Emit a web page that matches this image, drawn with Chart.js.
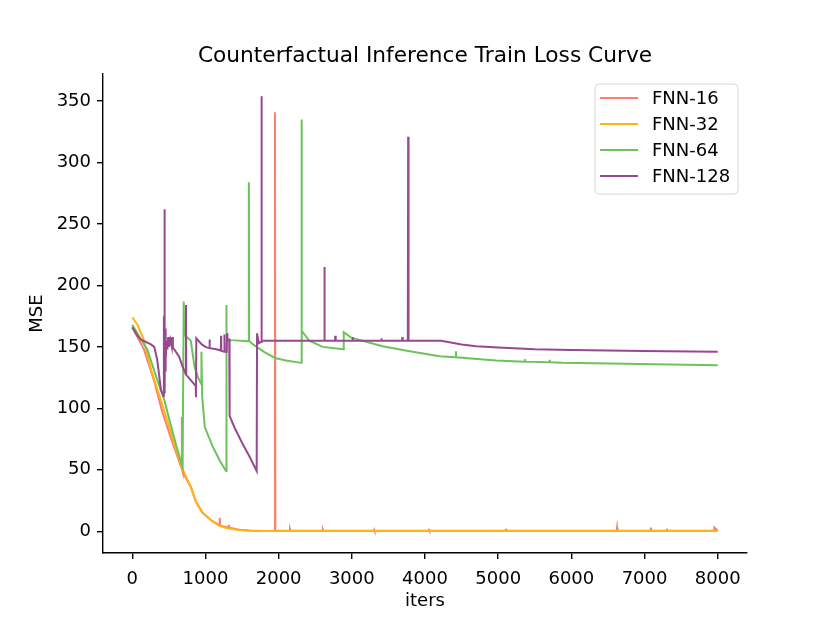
<!DOCTYPE html>
<html>
<head>
<meta charset="utf-8">
<script src="https://cdn.jsdelivr.net/npm/chart.js@4.4.0/dist/chart.umd.min.js"></script>
<style>
  html, body { margin: 0; padding: 0; background: #fff; }
  canvas { display: block; }
</style>
</head>
<body>
<canvas id="lossChart" width="830" height="623"></canvas>
<script>
// values: [iters, MSE]
const seriesNames = ['FNN-16', 'FNN-32', 'FNN-64', 'FNN-128'];
const xTicks = [0, 1000, 2000, 3000, 4000, 5000, 6000, 7000, 8000];
const yTicks = [0, 50, 100, 150, 200, 250, 300, 350];

const fnn16 = [
    [0, 166], [160, 148], [300, 122], [410, 97], [550, 72], [675, 51], [678, 93], [681, 50],
    [690, 48], [800, 36], [870, 24], [960, 15], [1010, 12.4], [1100, 8], [1190, 5],
    [1195, 11], [1200, 4.8], [1300, 3], [1320, 4.5], [1330, 2.8], [1460, 1.2], [1600, 0.6],
    [1800, 0.3], [1945, 0.3], [1950, 341], [1955, 0.4], [2150, 0.4], [2155, 1.5], [2160, 0.4],
    [2600, 0.4], [2605, 1.2], [2610, 0.4], [3300, 0.4], [3305, 1.2], [3310, 0.4],
    [4050, 0.4], [4055, 1], [4060, 0.4], [5100, 0.4], [5105, 2], [5110, 0.4],
    [6620, 0.4], [6625, 3], [6630, 0.4], [7080, 0.4], [7085, 3], [7090, 0.4],
    [7300, 0.4], [7305, 2], [7310, 0.4], [7950, 0.4], [7955, 3], [8000, 0.4]
];

const fnn32 = [
    [0, 174], [70, 168], [150, 157], [260, 131], [400, 105], [500, 86], [600, 66],
    [690, 50], [800, 36], [870, 24], [960, 15], [1010, 12.4], [1100, 8], [1190, 4.5],
    [1300, 2.5], [1460, 1], [1600, 0.5], [1800, 0.2], [2000, 0.1], [5000, 0.1], [8000, 0.1]
];

const fnn64 = [
    [0, 168], [100, 158], [205, 148], [342, 123], [437, 107], [506, 91], [600, 70],
    [688, 52], [703, 187], [708, 160], [800, 155], [850, 134], [900, 125], [940, 120],
    [945, 146], [955, 110], [990, 85], [1098, 69], [1200, 57], [1281, 49], [1285, 184],
    [1290, 156], [1350, 155.5], [1590, 154.5], [1593, 284], [1597, 155], [1650, 152],
    [1800, 146], [1950, 141], [2100, 139], [2308, 137], [2312, 335], [2318, 163],
    [2420, 155], [2600, 150], [2885, 148], [2890, 162], [2990, 157.5], [3420, 150.5],
    [3790, 146.4], [4200, 142.4], [4420, 141.5], [4423, 146.4], [4426, 141.5],
    [4970, 139], [5360, 138], [5365, 140], [5370, 138], [5700, 137.5], [5705, 139.5],
    [5710, 137.5], [5880, 137], [8000, 135]
];

const fnn128 = [
    [0, 166], [60, 160], [115, 156], [255, 152], [300, 150], [340, 140], [392, 115],
    [428, 110], [432, 175], [436, 120], [440, 262], [444, 112], [448, 165], [452, 130],
    [456, 160], [460, 140], [470, 155], [480, 148], [490, 158], [500, 150], [520, 156],
    [540, 150], [545, 158], [555, 149], [574, 148], [640, 142], [688, 134], [730, 128],
    [734, 184], [738, 127], [756, 126], [800, 123], [868, 118], [870, 109], [875, 157],
    [950, 152], [1000, 150], [1050, 149], [1055, 156], [1060, 149], [1150, 148],
    [1210, 147], [1213, 159], [1216, 147], [1255, 146], [1258, 160], [1262, 146],
    [1290, 146], [1295, 161], [1300, 156], [1325, 156], [1330, 94], [1350, 91],
    [1400, 84], [1500, 72], [1600, 61], [1700, 49], [1705, 161], [1730, 153],
    [1760, 154], [1765, 354], [1770, 155], [2620, 155], [2625, 215], [2630, 155],
    [2770, 155], [2775, 159], [2780, 155], [3005, 155], [3010, 158], [3015, 155],
    [3400, 155], [3405, 157], [3410, 155], [3685, 155], [3690, 158], [3695, 155],
    [3765, 155], [3770, 321], [3775, 155], [4220, 155], [4500, 152], [4700, 150.5],
    [5000, 149.5], [5500, 148], [6000, 147.5], [7000, 146.7], [8000, 146]
];

const seriesData = [fnn16, fnn32, fnn64, fnn128];
const seriesColors = ['#fa7f6f', '#ffb414', '#6dc25b', '#96498f'];

const font = 'DejaVu Sans';
Chart.defaults.font.family = font;
Chart.defaults.color = '#000';

// center the title over the plot area, like matplotlib does
const titleOverPlot = {
    id: 'titleOverPlot',
    afterLayout(chart) {
        const t = chart.titleBlock;
        if (!t) return;
        t.left = chart.chartArea.left;
        t.right = chart.chartArea.right;
        t.width = t.right - t.left;
    }
};

// matplotlib style legend box in the top right corner of the plot
const boxLegend = {
    id: 'boxLegend',
    afterDraw(chart) {
        const { ctx, chartArea } = chart;
        const right = chartArea.right - 9;
        const top = chartArea.top + 10;
        const w = 143, h = 110;
        const left = right - w;

        ctx.save();
        ctx.beginPath();
        ctx.roundRect(left, top, w, h, 4);
        ctx.fillStyle = 'rgba(255,255,255,0.8)';
        ctx.fill();
        ctx.strokeStyle = '#d6d6d6';
        ctx.lineWidth = 1;
        ctx.stroke();

        ctx.font = '18px "' + font + '"';
        ctx.textBaseline = 'middle';
        ctx.fillStyle = '#000';
        seriesNames.forEach((name, i) => {
            const y = top + 14 + i * 26;
            ctx.beginPath();
            ctx.moveTo(left + 5, y);
            ctx.lineTo(left + 43, y);
            ctx.strokeStyle = seriesColors[i];
            ctx.lineWidth = 2;
            ctx.stroke();
            ctx.fillText(name, left + 57, y + 1);
        });
        ctx.restore();
    }
};

new Chart(document.getElementById('lossChart'), {
    type: 'line',
    data: {
        datasets: seriesNames.map((name, i) => ({
            label: name,
            data: seriesData[i].map(p => ({ x: p[0], y: p[1] })),
            borderColor: seriesColors[i],
            borderWidth: 2,
            pointRadius: 0,
            tension: 0,
            order: seriesNames.length - i
        }))
    },
    options: {
        responsive: false,
        animation: false,
        devicePixelRatio: 1,
        layout: { padding: { left: 0, right: 83, top: 0, bottom: 0 } },
        plugins: {
            legend: { display: false },
            tooltip: { enabled: false },
            title: {
                display: true,
                text: 'Counterfactual Inference Train Loss Curve',
                font: { family: font, size: 21.7, weight: 'normal' },
                color: '#000',
                padding: { top: 43, bottom: 5 }
            }
        },
        scales: {
            x: {
                type: 'linear',
                min: -400,
                max: 8400,
                afterBuildTicks: (axis) => { axis.ticks = xTicks.map(v => ({ value: v })); },
                afterFit: (scale) => { scale.height = 70; },
                ticks: { font: { size: 18 }, color: '#000', padding: 10, maxRotation: 0, callback: v => String(v) },
                grid: { drawOnChartArea: false, drawTicks: true, tickLength: 6, color: '#000', lineWidth: 1.4 },
                border: { display: true, color: '#000', width: 1.4 },
                title: { display: true, text: 'iters', font: { size: 18 }, color: '#000', padding: { bottom: 11 } }
            },
            y: {
                type: 'linear',
                min: -17.7,
                max: 372,
                afterBuildTicks: (axis) => { axis.ticks = yTicks.map(v => ({ value: v })); },
                afterFit: (scale) => { scale.width = 103; },
                ticks: { font: { size: 18 }, color: '#000', padding: 6, callback: v => String(v) },
                grid: { drawOnChartArea: false, drawTicks: true, tickLength: 6, color: '#000', lineWidth: 1.4 },
                border: { display: true, color: '#000', width: 1.4 },
                title: { display: true, text: 'MSE', font: { size: 18 }, color: '#000', padding: { top: 27 } }
            }
        }
    },
    plugins: [titleOverPlot, boxLegend]
});
</script>
</body>
</html>
